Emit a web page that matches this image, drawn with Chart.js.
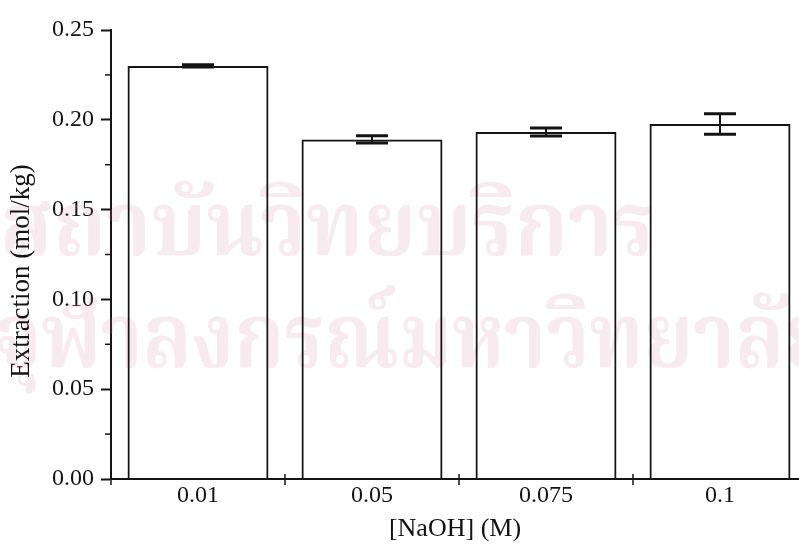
<!DOCTYPE html>
<html>
<head>
<meta charset="utf-8">
<script src="https://cdn.jsdelivr.net/npm/chart.js@4"></script>
<style>
  html, body { margin: 0; padding: 0; background: #fff; }
  #frame { width: 799px; height: 544px; overflow: hidden; position: relative; }
  #plot { width: 830px; height: 544px; }
</style>
</head>
<body>
<div id="frame"><div id="plot"><canvas id="c" width="830" height="544"></canvas></div></div>
<script>
// NaOH concentration (M) and mean extraction with standard deviation
const concentrations = ['0.01', '0.05', '0.075', '0.1'];
const extraction = [0.2300, 0.1891, 0.1932, 0.1976];
const extractionError = [0.0006, 0.0020, 0.0022, 0.0057];
const yMajorTicks = [0, 0.05, 0.10, 0.15, 0.20, 0.25];
const yMinorTicks = [0.025, 0.075, 0.125, 0.175, 0.225];
const xTitle = '[NaOH] (M)';
const yTitle = 'Extraction (mol/kg)';
const watermarkLines = ['สถาบันวิทยบริการ', 'จุฬาลงกรณ์มหาวิทยาลัย'];

const serif = '"Liberation Serif", "Times New Roman", serif';
const ink = '#141414';

// faint library stamp behind the bars
const watermark = {
  id: 'watermark',
  beforeDatasetsDraw(chart) {
    const ctx = chart.ctx;
    ctx.save();
    ctx.fillStyle = 'rgba(215,135,160,0.17)';
    ctx.textBaseline = 'middle';
    ctx.textAlign = 'left';
    ctx.font = 'bold 90px "Noto Serif Thai", "Noto Sans Thai Looped", "Noto Sans Thai", sans-serif';
    ctx.fillText(watermarkLines[0], 0, 240, 655);
    ctx.fillText(watermarkLines[1], -6, 352, 840);
    ctx.restore();
  }
};

// error bars, small axis ticks and axis titles
const extras = {
  id: 'extras',
  afterDatasetsDraw(chart) {
    const ctx = chart.ctx;
    const x = chart.scales.x, y = chart.scales.y;
    const area = chart.chartArea;
    ctx.save();
    ctx.strokeStyle = ink;
    ctx.lineCap = 'butt';
    extraction.forEach((v, i) => {
      const cx = x.getPixelForValue(i);
      const hi = y.getPixelForValue(v + extractionError[i]);
      const lo = y.getPixelForValue(v - extractionError[i]);
      ctx.lineWidth = 2;
      ctx.beginPath();
      ctx.moveTo(cx, hi); ctx.lineTo(cx, lo);
      ctx.stroke();
      ctx.lineWidth = 3;
      ctx.beginPath();
      ctx.moveTo(cx - 16, hi); ctx.lineTo(cx + 16, hi);
      ctx.moveTo(cx - 16, lo); ctx.lineTo(cx + 16, lo);
      ctx.stroke();
    });
    // minor ticks on the y axis
    ctx.lineWidth = 1.5;
    yMinorTicks.forEach(t => {
      const py = y.getPixelForValue(t);
      ctx.beginPath();
      ctx.moveTo(area.left - 6, py); ctx.lineTo(area.left, py);
      ctx.stroke();
    });
    // category separators crossing the x axis
    for (let i = 0; i <= concentrations.length; i++) {
      const px = x.getPixelForValue(i - 0.5);
      ctx.beginPath();
      ctx.moveTo(px, area.bottom - 5); ctx.lineTo(px, area.bottom + 6);
      ctx.stroke();
    }
    // axis titles
    ctx.fillStyle = ink;
    ctx.textAlign = 'center';
    ctx.textBaseline = 'middle';
    ctx.font = '26px ' + serif;
    ctx.fillText(xTitle, 455, 529);
    ctx.font = '27px ' + serif;
    ctx.translate(22, 271);
    ctx.rotate(-Math.PI / 2);
    ctx.fillText(yTitle, 0, 0);
    ctx.restore();
  }
};

new Chart(document.getElementById('c'), {
  type: 'bar',
  data: {
    labels: concentrations,
    datasets: [{
      data: extraction,
      backgroundColor: 'rgba(255,255,255,0)',
      borderColor: ink,
      borderWidth: 2,
      borderSkipped: 'bottom',
      categoryPercentage: 1,
      barPercentage: 0.81
    }]
  },
  options: {
    responsive: false,
    animation: false,
    layout: { padding: { left: 0, right: 23, top: 30, bottom: 0 } },
    plugins: { legend: { display: false }, tooltip: { enabled: false } },
    scales: {
      x: {
        grid: { display: false, drawTicks: false },
        border: { display: true, color: ink, width: 2 },
        ticks: { color: ink, padding: 2, font: { family: serif, size: 24 } },
        afterFit(s) { s.height = 65; }
      },
      y: {
        min: 0, max: 0.25,
        afterBuildTicks(s) { s.ticks = yMajorTicks.map(v => ({ value: v })); },
        grid: { drawOnChartArea: false, color: ink, tickLength: 10, tickWidth: 2 },
        border: { display: true, color: ink, width: 2 },
        ticks: {
          color: ink, padding: 7, font: { family: serif, size: 24 },
          callback: v => v.toFixed(2)
        },
        afterFit(s) { s.width = 111; }
      }
    }
  },
  plugins: [watermark, extras]
});
</script>
</body>
</html>
